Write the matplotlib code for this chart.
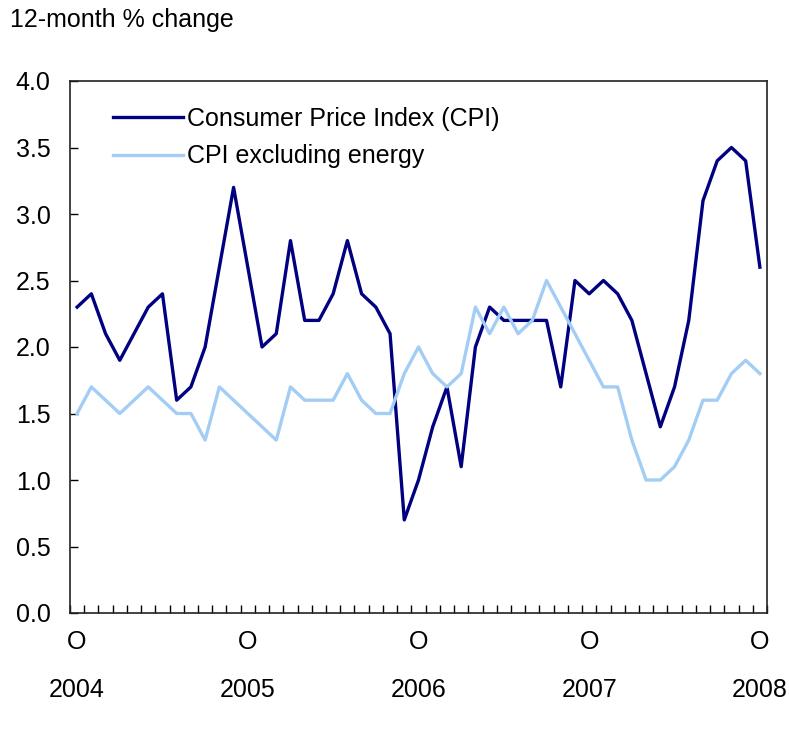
import matplotlib.pyplot as plt
import numpy as np

plt.rcParams['font.family'] = ['Liberation Sans', 'DejaVu Sans']

# monthly values, 49 points
cpi = [2.3, 2.4, 2.1, 1.9, 2.1, 2.3, 2.4, 1.6, 1.7, 2.0, 2.6, 3.2,
       2.6, 2.0, 2.1, 2.8, 2.2, 2.2, 2.4, 2.8, 2.4, 2.3, 2.1, 0.7,
       1.0, 1.4, 1.7, 1.1, 2.0, 2.3, 2.2, 2.2, 2.2, 2.2, 1.7, 2.5,
       2.4, 2.5, 2.4, 2.2, 1.8, 1.4, 1.7, 2.2, 3.1, 3.4, 3.5, 3.4,
       2.6]
cpi_ex_energy = [1.5, 1.7, 1.6, 1.5, 1.6, 1.7, 1.6, 1.5, 1.5, 1.3, 1.7, 1.6,
                 1.5, 1.4, 1.3, 1.7, 1.6, 1.6, 1.6, 1.8, 1.6, 1.5, 1.5, 1.8,
                 2.0, 1.8, 1.7, 1.8, 2.3, 2.1, 2.3, 2.1, 2.2, 2.5, 2.3, 2.1,
                 1.9, 1.7, 1.7, 1.3, 1.0, 1.0, 1.1, 1.3, 1.6, 1.6, 1.8, 1.9,
                 1.8]
year_labels = ['2004', '2005', '2006', '2007', '2008']
month_label = 'O'

fs = 18
x = np.arange(len(cpi))

fig = plt.figure(figsize=(7.89, 7.40), dpi=100)
ax = fig.add_axes([70 / 789, 1 - 613 / 740, 697 / 789, 532 / 740])

ax.plot(x, cpi, color='#000080', lw=2.4, label='Consumer Price Index (CPI)')
ax.plot(x, cpi_ex_energy, color='#a3cdf5', lw=2.4, label='CPI excluding energy')

ax.set_xlim(-0.5, len(cpi) - 0.5)
ax.set_ylim(0, 4.0)

ax.set_yticks(np.arange(0, 4.01, 0.5))
ax.set_yticklabels([f'{v:.1f}' for v in np.arange(0, 4.01, 0.5)])
ax.tick_params(axis='y', direction='in', length=6, width=1, pad=14, labelsize=fs)

major = x[::12]
ax.set_xticks(major)
ax.set_xticklabels([month_label] * len(major))
ax.set_xticks(np.arange(-0.5, len(cpi)), minor=True)
ax.tick_params(axis='x', which='major', length=0, pad=12, labelsize=fs)
ax.tick_params(axis='x', which='minor', direction='in', length=6, width=1)

for xi, yr in zip(major, year_labels):
    ax.text(xi, -0.145, yr, transform=ax.get_xaxis_transform(),
            ha='center', va='center', fontsize=fs)

for s in ax.spines.values():
    s.set_linewidth(1.2)
    s.set_color('#222222')

fig.text(10 / 789, 1 - 20 / 740, '12-month % change', ha='left', va='center', fontsize=fs)

ax.legend(loc='upper left', bbox_to_anchor=(0.062, 0.952), frameon=False,
          fontsize=fs, handlelength=2.8, handletextpad=0.15,
          labelspacing=0.55, borderpad=0, borderaxespad=0)

fig.savefig('out.png', dpi=100)
